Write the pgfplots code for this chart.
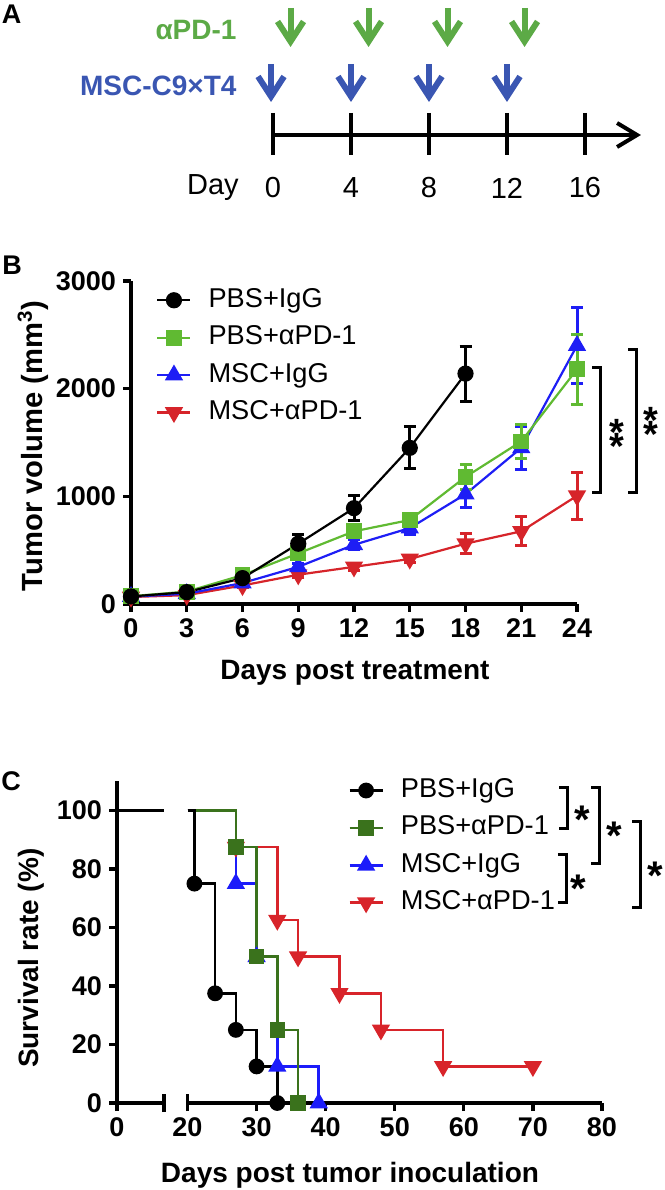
\documentclass[border=0pt]{standalone}
\usepackage{fontspec}
\setmainfont{Liberation Sans}
\usepackage{pgfplots}
\pgfplotsset{compat=1.18}
\usetikzlibrary{arrows.meta}

\definecolor{agreen}{RGB}{92,170,70}
\definecolor{ablue}{RGB}{58,86,178}
\definecolor{bgreen}{RGB}{96,186,50}
\definecolor{bblue}{RGB}{30,30,245}
\definecolor{bred}{RGB}{214,36,42}
\definecolor{cgreen}{RGB}{58,114,28}
\definecolor{cblue}{RGB}{28,28,250}
\definecolor{cred}{RGB}{216,36,42}

\newcommand{\tickfont}{\fontsize{13.5bp}{16bp}\selectfont\bfseries}
\newcommand{\labfont}{\fontsize{14bp}{17bp}\selectfont\bfseries}
\newcommand{\legfont}{\fontsize{13.6bp}{15bp}\selectfont}
\newcommand{\dayfont}{\fontsize{14.5bp}{16bp}\selectfont}
\newcommand{\panfont}{\fontsize{13.5bp}{16bp}\selectfont\bfseries}
\newcommand{\starfont}{\fontsize{19bp}{19bp}\selectfont\bfseries}

\tikzset{sig/.style={font=\starfont, inner sep=0pt, yshift=-3.8bp}}

\pgfplotsset{
  gp/.style={
    scale only axis, clip=false,
    axis x line*=bottom, axis y line*=left,
    axis line style={line width=1.6bp},
    tick style={line width=1.6bp, black},
    tick align=outside, major tick length=4bp,
    tick label style={font=\tickfont},
    label style={font=\labfont},
    /pgf/number format/assume math mode=true,
    /pgf/number format/1000 sep={},
    scaled ticks=false,
    legend cell align=left,
    reverse legend,
    legend style={draw=none, fill=none, anchor=north west, font=\legfont,
      row sep=3.7bp, inner sep=0pt,
      nodes={inner sep=1bp, text height=10bp, text depth=3bp},
      /tikz/every odd column/.append style={column sep=7.5bp}},
    legend image code/.code={%
      \draw[##1, mark=none] (0bp,0bp) -- (16.5bp,0bp);
      \draw[##1, mark indices={1}] plot coordinates {(8.25bp,0bp)};},
  },
  eb/.style={error bars/.cd, y dir=both, y explicit,
    error bar style={line width=1.5bp, #1},
    error mark options={rotate=90, mark size=3bp, line width=1.5bp, #1}},
}

\begin{document}
\begin{tikzpicture}
\useasboundingbox (0,0) rectangle (332.5bp,595bp);

% ---------------- A: schedule ----------------
\node[font=\panfont] at (5.75bp,588bp) {A};
\begin{axis}[at={(136.5bp,495bp)}, anchor=south west, scale only axis,
  width=156bp, height=100bp, xmin=0, xmax=16, ymin=0, ymax=200,
  y dir=reverse, hide axis, clip=false]
\addplot[black, line width=2bp, -{Straight Barb[length=10bp,width=12bp]}]
  coordinates {(0,135) (18.87,135)};
\addplot[black, line width=2.4bp, quiver={u=\thisrow{u},v=\thisrow{v}}] table {
x y u v
0 113 0 42
4 113 0 42
8 113 0 42
12 113 0 42
16 113 0 42
};
\addplot[agreen, line width=3bp, -{Straight Barb[length=10bp,width=13bp]},
  quiver={u=\thisrow{u},v=\thisrow{v}}] table {
x y u v
0.9 8 0 39
4.9 8 0 39
8.95 8 0 39
12.9 8 0 39
};
\addplot[ablue, line width=3bp, -{Straight Barb[length=10bp,width=13bp]},
  quiver={u=\thisrow{u},v=\thisrow{v}}] table {
x y u v
-0.1 64 0 38
4 64 0 38
8 64 0 38
12 64 0 38
};
\node[font=\labfont, text=agreen, anchor=east, inner sep=0pt] at (axis cs:-1.85,30) {αPD-1};
\node[font=\labfont, text=ablue, anchor=east, inner sep=0pt] at (axis cs:-1.85,86) {MSC-C9×T4};
\node[font=\dayfont] at (axis cs:-3.08,188) {Day};
\node[font=\dayfont] at (axis cs:0,188) {0};
\node[font=\dayfont] at (axis cs:4,188) {4};
\node[font=\dayfont] at (axis cs:8,188) {8};
\node[font=\dayfont] at (axis cs:12,188) {12};
\node[font=\dayfont] at (axis cs:16,188) {16};
\end{axis}

% ---------------- B: tumour volume ----------------
\node[font=\panfont] at (6bp,462.5bp) {B};
\begin{axis}[gp, at={(65.5bp,293bp)}, anchor=south west,
  width=223bp, height=161.5bp,
  xmin=0, xmax=24, ymin=0, ymax=3000,
  xtick={0,3,...,24}, ytick={0,1000,2000,3000},
  xlabel={Days post treatment},
  ylabel={Tumor volume (mm\textsuperscript{3})},
  xlabel style={at={(axis description cs:0.502,-0.214)}, anchor=center},
  ylabel style={at={(axis description cs:-0.22,0.49)}, anchor=center,
    font=\fontsize{14.6bp}{17bp}\selectfont\bfseries},
  legend style={at={(axis description cs:0.056,0.988)}}]
\addplot[bred, line width=1.1bp, mark=triangle*, mark size=4.2bp,
  mark options={rotate=180}, eb=bred] table[x=x,y=y,y error=e] {
x y e
0 65 8
3 82 10
6 172 15
9 272 25
12 345 30
15 418 30
18 560 95
21 675 135
24 1005 220
};
\addlegendentry{MSC+αPD-1}
\addplot[bblue, line width=1.1bp, mark=triangle*, mark size=4.2bp, eb=bblue]
  table[x=x,y=y,y error=e] {
x y e
0 68 8
3 95 10
6 195 20
9 345 35
12 550 45
15 705 55
18 1020 120
21 1450 200
24 2400 350
};
\addlegendentry{MSC+IgG}
\addplot[bgreen, line width=1.1bp, mark=square*, mark size=3.4bp, eb=bgreen]
  table[x=x,y=y,y error=e] {
x y e
0 72 8
3 115 12
6 268 25
9 470 45
12 675 55
15 780 60
18 1180 120
21 1510 160
24 2180 325
};
\addlegendentry{PBS+αPD-1}
\addplot[black, line width=1.1bp, mark=*, mark size=3.5bp, eb=black]
  table[x=x,y=y,y error=e] {
x y e
0 70 8
3 110 12
6 240 22
9 560 90
12 890 115
15 1450 195
18 2140 255
};
\addlegendentry{PBS+IgG}
\draw[line width=1.5bp] (axis cs:24.81,2192) -- (axis cs:25.24,2192) -- (axis cs:25.24,1031) -- (axis cs:24.81,1031);
\draw[line width=1.5bp] (axis cs:26.75,2368) -- (axis cs:27.18,2368) -- (axis cs:27.18,1031) -- (axis cs:26.75,1031);
\node[sig, align=center, yshift=-0.4bp] at (axis cs:26.15,1607) {*\\[-12bp]*};
\node[sig, align=center, yshift=-0.4bp] at (axis cs:28.0,1718) {*\\[-12bp]*};
\end{axis}

% ---------------- C: survival ----------------
\node[font=\panfont] at (5.5bp,204.5bp) {C};
\begin{axis}[gp, at={(58.5bp,43.5bp)}, anchor=south west,
  width=23.5bp, height=160.875bp,
  xmin=0, xmax=10, ymin=0, ymax=110,
  xtick={0}, ytick={0,20,...,100},
  ylabel={Survival rate (\%)},
  ylabel style={at={(axis description cs:-1.83,0.45)}, anchor=center}]
\addplot[black, line width=1.3bp] coordinates {(0,100) (10,100)};
\draw[line width=1.6bp] (axis cs:10,-3.1) -- (axis cs:10,3.1);
\end{axis}

\begin{axis}[gp, axis y line=none, at={(93.75bp,43.5bp)}, anchor=south west,
  width=207.25bp, height=160.875bp,
  xmin=20, xmax=80, ymin=0, ymax=110,
  xtick={20,30,...,80},
  xlabel={Days post tumor inoculation},
  xlabel style={at={(axis description cs:0.392,-0.224)}, anchor=center},
  legend style={at={(axis description cs:0.387,1.019)}}]
\addplot[cred, line width=1.3bp, const plot mark left, mark=triangle*, mark size=4bp,
  mark options={rotate=180}, mark indices={2,3,4,5,6,7,8}] coordinates {
(20,100) (27,87.5) (33,62.5) (36,50) (42,37.5) (48,25) (57,12.5) (70,12.5)};
\addlegendentry{MSC+αPD-1}
\addplot[cblue, line width=1.3bp, const plot mark left, mark=triangle*, mark size=4bp,
  mark indices={2,3,4,5}] coordinates {
(20,100) (27,75) (30,50) (33,12.5) (39,0)};
\addlegendentry{MSC+IgG}
\addplot[cgreen, line width=1.3bp, const plot mark left, mark=square*, mark size=3.2bp,
  mark indices={2,3,4,5}] coordinates {
(20,100) (27,87.5) (30,50) (33,25) (36,0)};
\addlegendentry{PBS+αPD-1}
\addplot[black, line width=1.3bp, const plot mark left, mark=*, mark size=3.3bp,
  mark indices={2,3,4,5,6}] coordinates {
(20,100) (21,75) (24,37.5) (27,25) (30,12.5) (33,0)};
\addlegendentry{PBS+IgG}
\draw[line width=1.6bp] (axis cs:20,0) -- (axis cs:20,3.1);
\draw[line width=1.5bp] (axis cs:73.78,107.7) -- (axis cs:74.94,107.7) -- (axis cs:74.94,93.7) -- (axis cs:73.78,93.7);
\draw[line width=1.5bp] (axis cs:73.63,84.8) -- (axis cs:74.79,84.8) -- (axis cs:74.79,68.7) -- (axis cs:73.63,68.7);
\draw[line width=1.5bp] (axis cs:78.41,107.7) -- (axis cs:79.57,107.7) -- (axis cs:79.57,82.05) -- (axis cs:78.41,82.05);
\draw[line width=1.5bp] (axis cs:84.35,96.1) -- (axis cs:85.5,96.1) -- (axis cs:85.5,67.0) -- (axis cs:84.35,67.0);
\node[sig, font=\fontsize{20bp}{20bp}\selectfont\bfseries, yshift=-0.2bp] at (axis cs:77.1,99.5) {*};
\node[sig, font=\fontsize{20bp}{20bp}\selectfont\bfseries, yshift=-0.2bp] at (axis cs:76.5,75.9) {*};
\node[sig, font=\fontsize{20bp}{20bp}\selectfont\bfseries, yshift=-0.2bp] at (axis cs:81.74,94.0) {*};
\node[sig, font=\fontsize{20bp}{20bp}\selectfont\bfseries, yshift=-0.2bp] at (axis cs:87.67,80.3) {*};
\end{axis}
\end{tikzpicture}
\end{document}
